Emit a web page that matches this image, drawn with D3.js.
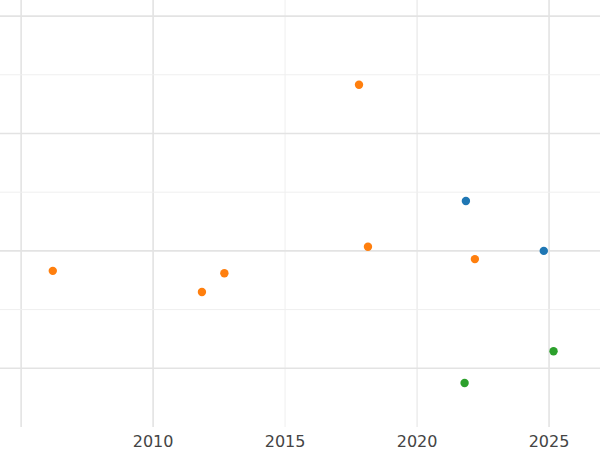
<!DOCTYPE html>
<html>
<head>
<meta charset="utf-8">
<script src="https://cdn.jsdelivr.net/npm/d3@7"></script>
<style>body{margin:0;background:#fff}</style>
</head>
<body>
<script>
// data
var orangeX = [2017.8, 2018.14, 2022.19, 2006.2, 2012.7, 2011.85];
var orangeY = [5.83, 3.07, 2.86, 2.66, 2.62, 2.30];
var blueX = [2021.85, 2024.8];
var blueY = [3.85, 3.0];
var greenX = [2025.17, 2021.8];
var greenY = [1.29, 0.75];
var xTicks = [2010, 2015, 2020, 2025];
var xGrid = [2005, 2010, 2015, 2020, 2025];
var yGrid = [1, 2, 3, 4, 5, 6, 7];

var W = 600, H = 450, plotH = 427;

var svg = d3.select("body").append("svg")
    .attr("width", W)
    .attr("height", H);

var x = d3.scaleLinear()
    .domain([2004.2, 2026.93])
    .range([0, W]);

var y = d3.scaleLinear()
    .domain([0, 7.274])
    .range([plotH, 0]);

// grid
svg.selectAll(".gx").data(xGrid).enter().append("line")
    .attr("x1", d => x(d)).attr("x2", d => x(d))
    .attr("y1", 0).attr("y2", plotH)
    .attr("stroke", d => (d % 10 === 0 || d === 2005 || d === 2025) ? "#e3e3e3" : "#efefef")
    .attr("stroke-width", d => (d === 2005 || d === 2010 || d === 2025) ? 1.6 : 1);

svg.selectAll(".gy").data(yGrid).enter().append("line")
    .attr("x1", 0).attr("x2", W)
    .attr("y1", d => y(d)).attr("y2", d => y(d))
    .attr("stroke", d => d % 2 === 1 ? "#e3e3e3" : "#efefef")
    .attr("stroke-width", d => d % 2 === 1 ? 1.6 : 1);

// x tick labels
svg.selectAll(".tx").data(xTicks).enter().append("text")
    .attr("x", d => x(d))
    .attr("y", 447)
    .attr("text-anchor", "middle")
    .attr("font-family", "DejaVu Sans, sans-serif")
    .attr("font-size", 16)
    .attr("fill", "#444")
    .text(d => d);

function dots(xs, ys, color) {
    svg.selectAll(null).data(xs).enter().append("circle")
        .attr("r", 4.2)
        .attr("cx", d => x(d))
        .attr("cy", (d, i) => y(ys[i]))
        .attr("fill", color);
}
dots(orangeX, orangeY, "#ff7f0e");
dots(blueX, blueY, "#1f77b4");
dots(greenX, greenY, "#2ca02c");
</script>
</body>
</html>
